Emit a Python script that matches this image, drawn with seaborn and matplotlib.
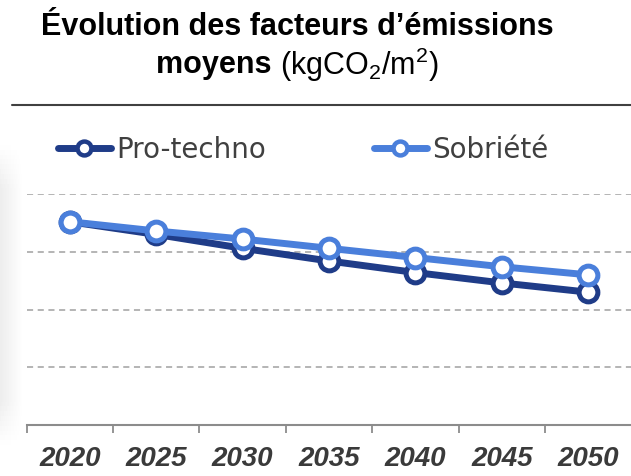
import numpy as np
import pandas as pd
import matplotlib
matplotlib.use("Agg")
import matplotlib.pyplot as plt
from matplotlib.lines import Line2D
import seaborn as sns

years = ["2020", "2025", "2030", "2035", "2040", "2045", "2050"]
pro_techno = [17.6, 16.5, 15.3, 14.2, 13.2, 12.3, 11.5]
sobriete = [17.6, 16.8, 16.1, 15.3, 14.5, 13.7, 13.0]
series_names = ["Pro-techno", "Sobriété"]
series_colors = ["#1F3C88", "#4A7FDB"]

df = pd.DataFrame({
    "idx": list(range(len(years))) * 2,
    "year": years * 2,
    "value": pro_techno + sobriete,
    "scenario": [series_names[0]] * len(years) + [series_names[1]] * len(years),
})

sns.set_theme(style="white")
plt.rcParams["font.family"] = ["Liberation Sans", "DejaVu Sans"]
plt.rcParams["mathtext.fontset"] = "custom"
plt.rcParams["mathtext.rm"] = "Liberation Sans"

fig = plt.figure(figsize=(6.31, 4.76), dpi=100)
W, H = 631, 476

# Faint grey shading on the left edge
yy = np.linspace(0, 1, 64)
vert = np.clip(np.minimum(yy / 0.15, (1 - yy) / 0.15), 0, 1)
horiz = np.linspace(1, 0, 24)
shade = 1 - 0.07 * np.outer(vert, horiz)
bax = fig.add_axes([0, 1 - 450 / H, 24 / W, (450 - 140) / H])
bax.imshow(shade, cmap="gray", vmin=0, vmax=1, aspect="auto")
bax.axis("off")

ax = fig.add_axes([26.5 / W, 1 - 425 / H, 605 / W, (425 - 194) / H])

for name, col in zip(series_names, series_colors):
    sub = df[df["scenario"] == name]
    sns.lineplot(data=sub, x="idx", y="value", ax=ax, color=col, linewidth=5,
                 marker="o", markersize=13.5, markerfacecolor="white",
                 markeredgecolor=col, markeredgewidth=3.6, legend=False,
                 clip_on=False, zorder=3)

ax.set_xlim(-0.5, len(years) - 0.5)
ax.set_ylim(0, 20)
ax.set_yticks([5, 10, 15, 20])
ax.yaxis.grid(True, color="#a0a0a0", linestyle=(0, (4, 3)), linewidth=1.1)
ax.xaxis.grid(False)
ax.tick_params(axis="y", left=False, labelleft=False)
for s in ["left", "right", "top"]:
    ax.spines[s].set_visible(False)
ax.spines["bottom"].set_color("#8c8c8c")
ax.spines["bottom"].set_linewidth(1.5)

ax.set_xticks(range(len(years)))
ax.set_xticklabels(years, fontsize=20, fontweight="bold", fontstyle="italic",
                   color="#3a3a3a")
ax.set_xticks(np.arange(-0.5, len(years) - 0.5, 1.0), minor=True)
ax.tick_params(axis="x", which="major", length=0, pad=15)
ax.tick_params(axis="x", which="minor", length=6, width=1.3, color="#8c8c8c",
               bottom=True)
ax.set_xlabel("")
ax.set_ylabel("")

# Legend
handles = [Line2D([0], [0], color=c, linewidth=5, marker="o", markersize=10,
                  markerfacecolor="white", markeredgecolor=c, markeredgewidth=3.2)
           for c in series_colors]
fig.legend(handles, series_names, loc="center left",
           bbox_to_anchor=(33 / W, 1 - 150 / H), ncol=2, frameon=False,
           prop={"family": "DejaVu Sans", "size": 20}, labelcolor="#404040",
           handlelength=1.9, handletextpad=0.18, columnspacing=3.9)

# Title
fig.text(297 / W, 1 - 27 / H, "Évolution des facteurs d\u2019émissions",
         ha="center", va="center", fontsize=22, fontweight="bold", color="black")
t1 = fig.text(0, 1 - 65 / H, "moyens ", ha="left", va="center", fontsize=22,
              fontweight="bold", color="black")
t2 = fig.text(0, 1 - 65 / H, r"(kgCO$_2$/m$^2$)", ha="left", va="center",
              fontsize=22, color="black")
fig.canvas.draw()
r = fig.canvas.get_renderer()
w1 = t1.get_window_extent(r).width
w2 = t2.get_window_extent(r).width
start = 297 - (w1 + w2) / 2
t1.set_position((start / W, 1 - 65 / H))
t2.set_position(((start + w1) / W, 1 - 65 / H))

# Separator line under title
fig.add_artist(Line2D([12 / W, 1.0], [1 - 105 / H, 1 - 105 / H],
                      color="#404040", linewidth=1.5))

fig.savefig("out.png", dpi=100)
